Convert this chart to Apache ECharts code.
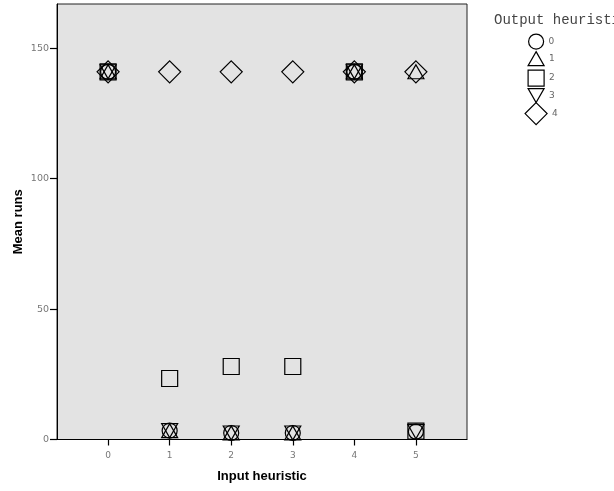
<!DOCTYPE html>
<html>
<head>
<meta charset="utf-8">
<script src="https://cdn.jsdelivr.net/npm/echarts@6/dist/echarts.min.js"></script>
<style>
html,body{margin:0;padding:0;background:#fff;}
#c{width:614px;height:491px;}
</style>
</head>
<body>
<div id="c"></div>
<script>
// Data
const inputHeuristics = [0, 1, 2, 3, 4, 5];
const outputHeuristics = ['0', '1', '2', '3', '4'];
const meanRunsOut0 = [141, 3.4, 2.5, 2.5, 141, 3.0];
const meanRunsOut1 = [141, 3.4, 2.5, 2.5, 141, 141];
const meanRunsOut2 = [141, 23.4, 28, 28, 141, 3.2];
const meanRunsOut3 = [141, 3.4, 2.5, 2.5, 141, 3.0];
const meanRunsOut4 = [141, 141, 141, 141, 141, 141];
const yTickValues = [0, 50, 100, 150];

const allValues = [meanRunsOut0, meanRunsOut1, meanRunsOut2, meanRunsOut3, meanRunsOut4];
const invTri = 'path://M0,0L20,0L10,17.3Z';
const symbols = ['circle', 'triangle', 'rect', invTri, 'diamond'];
const sizes = [[15, 15], [16, 14], [16, 16], [16, 14], [22, 22]];
const legendCenters = [41, 58, 77.5, 95, 113];

const chart = echarts.init(document.getElementById('c'), null, {renderer: 'canvas'});

const series = outputHeuristics.map((name, i) => ({
  name: name,
  type: 'scatter',
  symbol: symbols[i],
  symbolSize: sizes[i],
  data: inputHeuristics.map((x, j) => [x, allValues[i][j]]),
  itemStyle: {color: 'transparent', borderColor: '#000', borderWidth: 1.2, opacity: 1},
  emphasis: {disabled: true},
  silent: true,
  z: 5 - i
}));

const legends = outputHeuristics.map((name, i) => ({
  data: [{name: name, icon: symbols[i]}],
  left: 535.5 - sizes[i][0] / 2,
  top: legendCenters[i] - sizes[i][1] / 2,
  orient: 'vertical',
  padding: 0,
  itemWidth: sizes[i][0],
  itemHeight: sizes[i][1],
  itemGap: 0,
  selectedMode: false,
  itemStyle: {color: 'transparent', borderColor: '#000', borderWidth: 1.2},
  textStyle: {fontSize: 9, color: '#666', fontFamily: 'DejaVu Sans', padding: [0, 0, 0, 0]}
}));

chart.setOption({
  animation: false,
  backgroundColor: '#fff',
  title: {
    text: 'Output heuristic',
    left: 494,
    top: 13,
    padding: 0,
    textStyle: {fontFamily: 'Liberation Mono', fontSize: 14, fontWeight: 'normal', color: '#444'}
  },
  legend: legends,
  grid: {
    show: true,
    left: 57,
    top: 4,
    width: 410,
    height: 435.5,
    backgroundColor: '#e3e3e3',
    borderColor: '#222',
    borderWidth: 1
  },
  xAxis: {
    type: 'value',
    min: -0.83,
    max: 5.83,
    name: 'Input heuristic',
    nameLocation: 'middle',
    nameGap: 30,
    nameMoveOverlap: false,
    nameTextStyle: {fontFamily: 'Liberation Sans', fontWeight: 'bold', fontSize: 13, color: '#000'},
    axisLine: {show: true, onZero: false, lineStyle: {color: '#000', width: 1}},
    axisTick: {show: true, inside: false, length: 6, lineStyle: {color: '#000', width: 1.2}, customValues: inputHeuristics},
    axisLabel: {show: true, customValues: inputHeuristics, margin: 12, fontSize: 9, fontFamily: 'DejaVu Sans', color: '#777'},
    splitLine: {show: false}
  },
  yAxis: {
    type: 'value',
    min: 0,
    max: 167,
    name: 'Mean runs',
    nameLocation: 'middle',
    nameGap: 32,
    nameMoveOverlap: false,
    nameRotate: 90,
    nameTextStyle: {fontFamily: 'Liberation Sans', fontWeight: 'bold', fontSize: 13, color: '#000'},
    axisLine: {show: true, onZero: false, lineStyle: {color: '#000', width: 1}},
    axisTick: {show: true, inside: false, length: 7, lineStyle: {color: '#000', width: 1.2}, customValues: yTickValues},
    axisLabel: {show: true, customValues: yTickValues, margin: 8, fontSize: 9.5, fontFamily: 'DejaVu Sans', color: '#777'},
    splitLine: {show: false}
  },
  series: series
});
</script>
</body>
</html>
